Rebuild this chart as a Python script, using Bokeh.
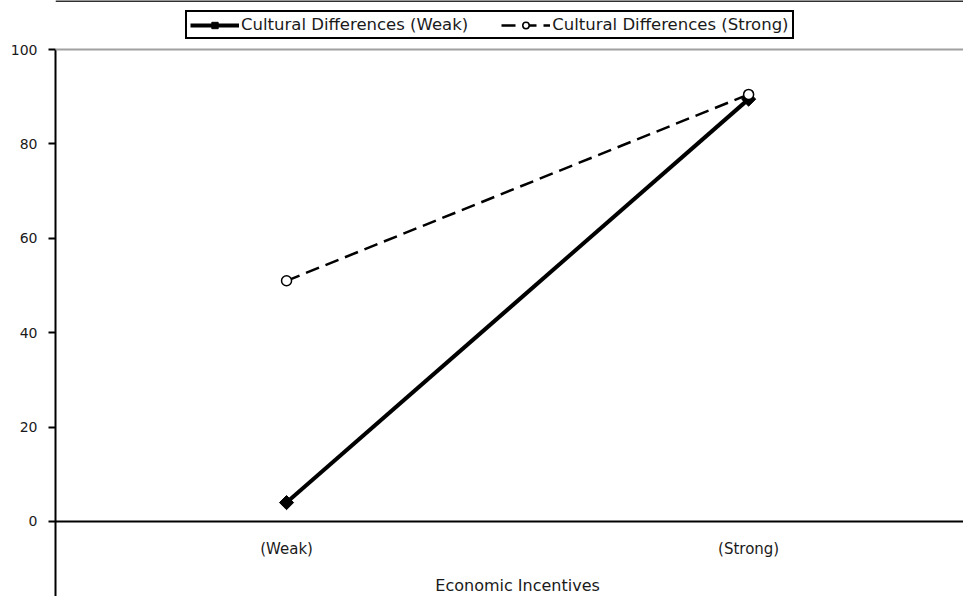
import math
from bokeh.plotting import figure
from bokeh.models import Range1d, Span, FixedTicker, Legend, LegendItem, Label
from bokeh.core.properties import value
from bokeh.embed import file_html
from bokeh.resources import INLINE

# ---- data ----
categories = ["(Weak)", "(Strong)"]
weak_values = [4, 89.5]      # Cultural Differences (Weak)
strong_values = [51, 90.5]   # Cultural Differences (Strong)
series_names = ["Cultural Differences (Weak)", "Cultural Differences (Strong)"]
y_ticks = [0, 20, 40, 60, 80, 100]
x_title = "Economic Incentives"

FONT = "DejaVu Sans"
TXT = "#1a1a1a"

xs = [i + 0.5 for i in range(len(categories))]

Y_MIN, Y_MAX_TOP = -15.9, 110.4

p = figure(width=963, height=596, output_backend="svg", toolbar_location=None,
           x_range=Range1d(0, 1.965), y_range=Range1d(Y_MIN, Y_MAX_TOP),
           x_axis_location=None,
           min_border_left=55, min_border_right=0, min_border_top=0, min_border_bottom=0)
p.grid.visible = False
p.outline_line_color = None
p.background_fill_color = "white"
p.border_fill_color = "white"

ax = p.yaxis[0]
ax.ticker = FixedTicker(ticks=y_ticks)
ax.bounds = (Y_MIN, 100)
ax.axis_line_width = 2
ax.axis_line_color = "black"
ax.major_tick_line_width = 2
ax.major_tick_line_color = "black"
ax.major_tick_out = 7
ax.major_tick_in = 0
ax.minor_tick_out = 0
ax.minor_tick_in = 0
ax.major_label_standoff = 11
ax.major_label_text_font = FONT
ax.major_label_text_font_size = "14px"
ax.major_label_text_color = TXT

# plot-area lines
p.add_layout(Span(location=Y_MAX_TOP, dimension="width", line_color="#303030", line_width=3))
p.add_layout(Span(location=100, dimension="width", line_color="#a0a0a0", line_width=2))
p.add_layout(Span(location=0, dimension="width", line_color="black", line_width=2))

# series
r1 = p.line(xs, weak_values, line_color="black", line_width=4)
m1 = p.scatter(xs, weak_values, marker="square", size=10, angle=math.pi / 4,
               fill_color="black", line_color="black")
r2 = p.line(xs, strong_values, line_color="black", line_width=2.5, line_dash="14 7")
m2 = p.scatter(xs, strong_values, marker="circle", size=10, fill_color="white",
               line_color="black", line_width=1.5)

# category labels and axis title
p.text(x=xs, y=[-5.9] * len(xs), text=categories, text_align="center", text_baseline="middle",
       text_font=value(FONT), text_font_size="15px", text_color=TXT)
p.add_layout(Label(x=1.0, y=-13.6, text=x_title, text_align="center", text_baseline="middle",
                   text_font=FONT, text_font_size="16px", text_color=TXT))

legend = Legend(items=[LegendItem(label=series_names[0], renderers=[r1, m1]),
                       LegendItem(label=series_names[1], renderers=[r2, m2])],
                orientation="horizontal", location=(130, 557))
legend.padding = 3
legend.margin = 0
legend.spacing = 33
legend.label_standoff = 2
legend.glyph_width = 49
legend.glyph_height = 16
legend.label_height = 16
legend.label_text_font = FONT
legend.label_text_font_size = "16.5px"
legend.label_text_color = TXT
legend.border_line_color = "black"
legend.border_line_alpha = 1
legend.border_line_width = 2
legend.background_fill_color = "white"
legend.background_fill_alpha = 1
p.add_layout(legend, "center")

open("out.html", "w").write(file_html(p, INLINE))
